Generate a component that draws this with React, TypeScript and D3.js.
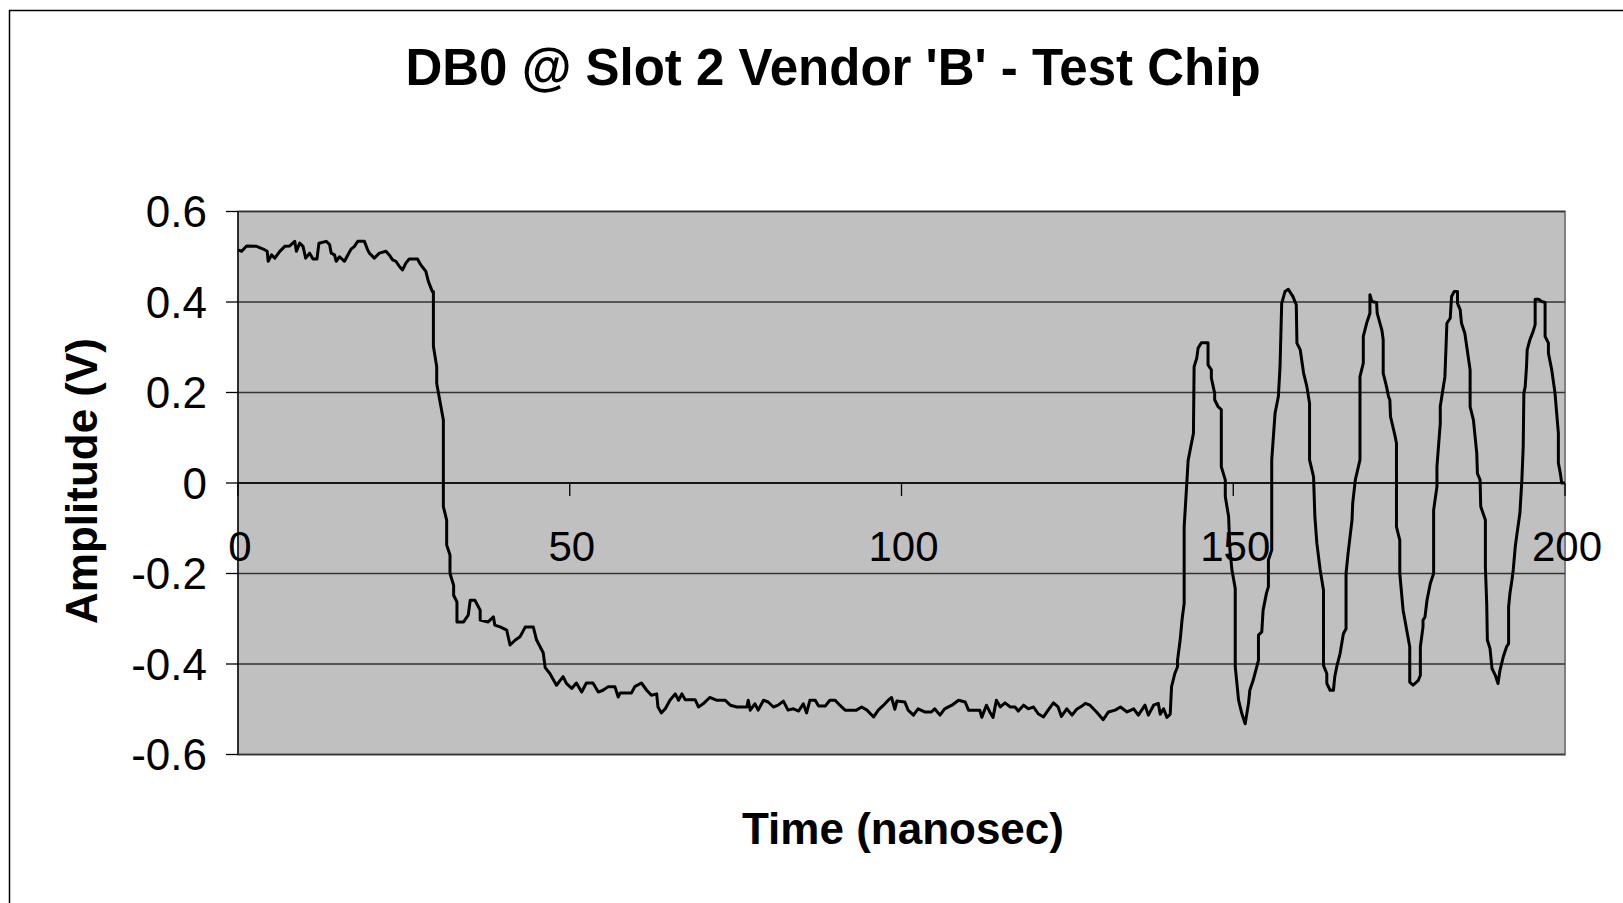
import React from "react";
import * as d3 from "d3";

// ---- data (time ns, amplitude V) ----
const highLevel: [number, number][] = [
  [0, 0.515], [0.55, 0.512], [1.3, 0.524], [2.8, 0.523], [3.8, 0.517], [4.4, 0.512], [4.55, 0.49],
  [5.05, 0.504], [5.55, 0.497], [6.3, 0.512], [7.05, 0.523], [7.8, 0.524], [8.55, 0.534], [8.8, 0.512],
  [9.3, 0.53], [9.8, 0.523], [10.2, 0.497], [10.8, 0.508], [11.3, 0.495], [11.9, 0.495], [12.2, 0.53],
  [13.3, 0.534], [13.8, 0.527], [14.05, 0.508], [14.55, 0.504], [14.8, 0.49], [15.3, 0.5], [16.05, 0.49],
  [16.55, 0.504], [17.05, 0.517], [17.55, 0.523], [18.05, 0.534], [19.05, 0.534], [19.55, 0.515],
  [19.8, 0.508], [20.55, 0.497], [21.3, 0.508], [22.3, 0.512], [22.8, 0.504], [23.3, 0.493], [23.8, 0.49],
  [24.3, 0.479], [24.8, 0.471], [25.3, 0.486], [25.8, 0.495], [27.05, 0.495], [27.55, 0.482],
  [28.3, 0.468], [28.7, 0.445], [29.3, 0.423],
];

const fallingEdge: [number, number][] = [
  [29.45, 0.423], [29.45, 0.302], [29.95, 0.257], [29.95, 0.22], [30.95, 0.139], [30.95, -0.052],
  [31.45, -0.082], [31.45, -0.137], [31.95, -0.159], [31.95, -0.2], [32.5, -0.226], [32.5, -0.248],
  [33, -0.263], [33, -0.307], [34, -0.307], [34.7, -0.292], [35, -0.259], [35.7, -0.259], [36.5, -0.281],
  [36.5, -0.303], [37.7, -0.307], [38.5, -0.296], [38.7, -0.314], [39.5, -0.318], [40.5, -0.325],
  [41, -0.358], [41.8, -0.347], [42.5, -0.34], [43.3, -0.318], [44.5, -0.318], [45, -0.347], [46, -0.375],
  [46.3, -0.408], [47, -0.421], [48, -0.447], [49, -0.428], [49.5, -0.443], [50.3, -0.454], [51, -0.442],
];

const lowLevelA: [number, number][] = [
  [51.8, -0.462], [52.5, -0.442], [53.5, -0.442], [54.3, -0.462], [55, -0.458], [55.8, -0.45],
  [56.8, -0.45], [57.3, -0.473], [57.6, -0.464], [59.3, -0.464], [59.8, -0.45], [60.8, -0.442],
  [61.6, -0.458], [62.3, -0.469], [63.1, -0.466], [63.3, -0.495], [63.8, -0.508], [64.4, -0.499],
  [65.1, -0.48], [65.9, -0.466], [66.4, -0.48], [66.9, -0.466], [67.4, -0.479], [68.9, -0.479],
  [69.4, -0.495], [70.1, -0.488], [71.1, -0.474], [72.1, -0.48], [73.4, -0.48], [74.2, -0.491],
  [75.2, -0.495], [76.7, -0.495], [76.9, -0.48], [77.2, -0.502], [77.9, -0.488], [78.4, -0.502],
  [79.2, -0.48], [79.9, -0.484], [80.7, -0.495], [81.4, -0.491], [82.2, -0.482], [82.9, -0.502],
  [83.7, -0.499], [84.5, -0.504], [85.2, -0.488], [85.7, -0.508], [86.2, -0.48], [87, -0.48],
  [87.5, -0.493], [88.5, -0.493], [89.2, -0.48], [90, -0.48], [90.7, -0.491], [91.5, -0.502],
  [93.2, -0.502], [94, -0.495], [94.8, -0.502], [95.8, -0.517], [96.5, -0.502], [97.3, -0.491],
  [98, -0.48], [98.5, -0.474], [99, -0.5], [99.3, -0.482], [100.5, -0.484],
];

const lowLevelB: [number, number][] = [
  [101, -0.502], [101.8, -0.513], [102.5, -0.499], [103.5, -0.506], [104.5, -0.506], [105, -0.499],
  [105.8, -0.513], [106.5, -0.499], [107.6, -0.491], [108.6, -0.48], [109.6, -0.484], [110.1, -0.502],
  [111.8, -0.502], [112.1, -0.518], [112.8, -0.491], [113.3, -0.506], [113.8, -0.518], [114.3, -0.48],
  [114.9, -0.495], [115.6, -0.486], [116.4, -0.495], [117.1, -0.495], [117.6, -0.504], [118.4, -0.491],
  [119.1, -0.499], [119.9, -0.495], [120.6, -0.51], [121.4, -0.517], [122.1, -0.502], [122.9, -0.486],
  [123.6, -0.495], [124.1, -0.516], [124.9, -0.499], [125.7, -0.513], [126.4, -0.5], [127.2, -0.493],
  [127.7, -0.487], [128.4, -0.491], [129.4, -0.506], [130.4, -0.523], [131.2, -0.506], [132.2, -0.502],
  [133, -0.495], [134, -0.506], [135, -0.499], [135.7, -0.513], [136.7, -0.491], [137.2, -0.513],
  [138, -0.491], [138.7, -0.487], [139, -0.511], [139.5, -0.499], [140, -0.518], [140.5, -0.511],
  [140.7, -0.45], [141.2, -0.421], [141.6, -0.406], [141.6, -0.392], [142, -0.347],
];

const oscillation: [number, number][] = [
  [142.3, -0.3], [142.6, -0.266], [142.6, -0.097], [143, 0], [143.2, 0.05], [144, 0.11], [144.1, 0.257],
  [144.5, 0.276], [144.7, 0.298], [145.2, 0.31], [146.2, 0.31], [146.2, 0.261], [146.7, 0.25],
  [146.7, 0.232], [147.2, 0.198], [147.2, 0.184], [147.7, 0.169], [148.2, 0.162], [148.2, 0.036],
  [148.8, 0.007], [148.8, -0.03], [149.3, -0.074], [149.5, -0.148], [149.8, -0.192], [150.3, -0.233],
  [150.3, -0.406], [150.8, -0.48], [151.3, -0.51], [151.8, -0.532], [152.3, -0.487], [152.5, -0.458],
  [153, -0.436], [153.8, -0.392], [153.8, -0.336], [154.3, -0.329], [154.5, -0.281], [155, -0.244],
  [155.3, -0.229], [155.3, -0.17], [155.8, -0.148], [155.8, 0.051], [156.3, 0.154], [156.8, 0.191],
  [157.05, 0.257], [157.3, 0.397], [157.8, 0.423], [158.3, 0.428], [159, 0.412], [159.5, 0.394],
  [159.6, 0.309], [160.1, 0.294], [160.6, 0.243], [161.1, 0.213], [161.5, 0.176], [161.5, 0.051],
  [162.1, 0.014], [162.3, -0.074], [162.6, -0.133], [163.1, -0.192], [163.6, -0.237], [163.6, -0.403],
  [164.1, -0.421], [164.1, -0.443], [164.6, -0.458], [165.1, -0.458], [165.3, -0.428], [165.6, -0.406],
  [166.1, -0.377], [166.6, -0.333], [167, -0.322], [167, -0.2], [167.3, -0.156], [167.6, -0.119],
  [167.9, -0.082], [168, -0.045], [168.4, 0.007], [169.1, 0.051], [169.1, 0.235], [169.6, 0.265],
  [169.6, 0.324], [170.1, 0.353], [170.6, 0.375], [170.6, 0.416], [170.9, 0.401], [171.6, 0.399],
  [171.7, 0.375], [172.4, 0.338], [172.6, 0.316], [172.6, 0.243], [173.1, 0.213], [173.4, 0.191],
  [173.6, 0.184], [173.7, 0.147], [174.4, 0.103], [174.6, 0.088], [174.6, -0.097], [175.1, -0.126],
  [175.1, -0.2], [175.6, -0.281], [176.6, -0.362], [176.6, -0.44], [177.1, -0.447], [177.9, -0.436],
  [178.2, -0.425], [178.2, -0.362], [178.6, -0.318], [178.6, -0.303], [178.9, -0.296], [179.2, -0.259],
  [179.7, -0.222], [180.2, -0.2], [180.2, -0.06], [180.7, -0.008], [180.7, 0.036], [181.2, 0.132],
  [181.2, 0.169], [181.9, 0.235], [182.2, 0.353], [182.7, 0.364], [182.9, 0.412], [183.3, 0.423],
  [183.8, 0.423], [183.8, 0.397], [184.2, 0.383], [184.4, 0.353], [184.9, 0.331], [185.7, 0.25],
  [185.7, 0.169], [186.2, 0.139], [186.7, 0.066], [186.8, 0.021], [187.2, 0.007], [187.3, -0.052],
  [188, -0.082], [188, -0.185], [188.2, -0.266], [188.3, -0.347], [188.7, -0.366], [189, -0.41],
  [189.5, -0.425], [189.9, -0.443], [190.2, -0.414], [190.7, -0.384], [191.2, -0.362], [191.5, -0.355],
  [191.5, -0.274], [191.7, -0.244], [192, -0.215], [192.2, -0.192], [192.5, -0.141], [192.7, -0.119],
  [193.2, -0.067], [193.5, 0.007], [193.7, 0.08], [193.8, 0.198], [194, 0.213], [194.2, 0.257],
  [194.3, 0.294], [194.7, 0.316], [195.2, 0.335], [195.5, 0.35], [195.5, 0.406], [196, 0.406],
  [196.5, 0.401], [197, 0.399], [197, 0.324], [197.5, 0.309], [197.5, 0.287], [198, 0.25],
  [198.5, 0.198], [198.7, 0.162], [199, 0.11], [199, 0.044], [199.3, 0.021], [199.5, 0], [200, 0],
];

const xTicks = [0, 50, 100, 150, 200];
const yTicks = [-0.6, -0.4, -0.2, 0, 0.2, 0.4, 0.6];
const titleText = "DB0 @ Slot 2 Vendor 'B' - Test Chip";
const xTitle = "Time (nanosec)";
const yTitle = "Amplitude (V)";

export default function App() {
  const W = 1623;
  const H = 903;
  const left = 238;
  const right = 1565;
  const top = 211.5;
  const bottom = 754.5;

  const x = d3.scaleLinear().domain([0, 200]).range([left, right]);
  const y = d3.scaleLinear().domain([-0.6, 0.6]).range([bottom, top]);

  const series = [...highLevel, ...fallingEdge, ...lowLevelA, ...lowLevelB, ...oscillation];
  const line = d3
    .line<[number, number]>()
    .x((d) => x(d[0]))
    .y((d) => y(d[1]));

  const font = "'Liberation Sans', Arial, sans-serif";
  const fmt = (v: number) => (v === 0 ? "0" : String(Math.round(v * 10) / 10));
  const y0 = y(0);

  return (
    <svg
      width={W}
      height={H}
      style={{ position: "absolute", left: 0, top: 0, background: "#fff" }}
      fontFamily={font}
    >
      <rect x={0} y={0} width={W} height={H} fill="#fff" />
      <rect x={9.5} y={10.5} width={1700} height={1000} fill="none" stroke="#000" strokeWidth={1.5} />

      <text x={833} y={85} textAnchor="middle" fontSize={51} fontWeight="bold" fill="#000">
        {titleText}
      </text>

      {/* plot area */}
      <rect x={left} y={top} width={right - left} height={bottom - top} fill="#C0C0C0" stroke="#808080" strokeWidth={2} />
      {yTicks.map((t) => (
        <line key={"g" + t} x1={left} x2={right} y1={y(t)} y2={y(t)} stroke="#333" strokeWidth={1.3} />
      ))}

      {/* y axis */}
      <line x1={left} x2={left} y1={top} y2={bottom} stroke="#000" strokeWidth={1.3} />
      {yTicks.map((t) => (
        <g key={"yt" + t}>
          <line x1={left - 12} x2={left} y1={y(t)} y2={y(t)} stroke="#000" strokeWidth={1.3} />
          <text x={207} y={y(t)} dy="0.36em" textAnchor="end" fontSize={44} fill="#000">
            {fmt(t)}
          </text>
        </g>
      ))}

      {/* x axis at zero */}
      <line x1={left} x2={right} y1={y0} y2={y0} stroke="#000" strokeWidth={1.3} />
      {xTicks.map((t) => (
        <g key={"xt" + t}>
          <line x1={x(t)} x2={x(t)} y1={y0} y2={y0 + 13} stroke="#000" strokeWidth={1.3} />
          <text x={x(t) + 2} y={561} textAnchor="middle" fontSize={42} fill="#000">
            {t}
          </text>
        </g>
      ))}

      <path d={line(series) ?? ""} fill="none" stroke="#000" strokeWidth={3} strokeLinejoin="round" />

      <text x={903} y={844} textAnchor="middle" fontSize={44} fontWeight="bold" fill="#000">
        {xTitle}
      </text>
      <text
        transform={`translate(97, 481) rotate(-90)`}
        textAnchor="middle"
        fontSize={44}
        fontWeight="bold"
        fill="#000"
      >
        {yTitle}
      </text>
    </svg>
  );
}
